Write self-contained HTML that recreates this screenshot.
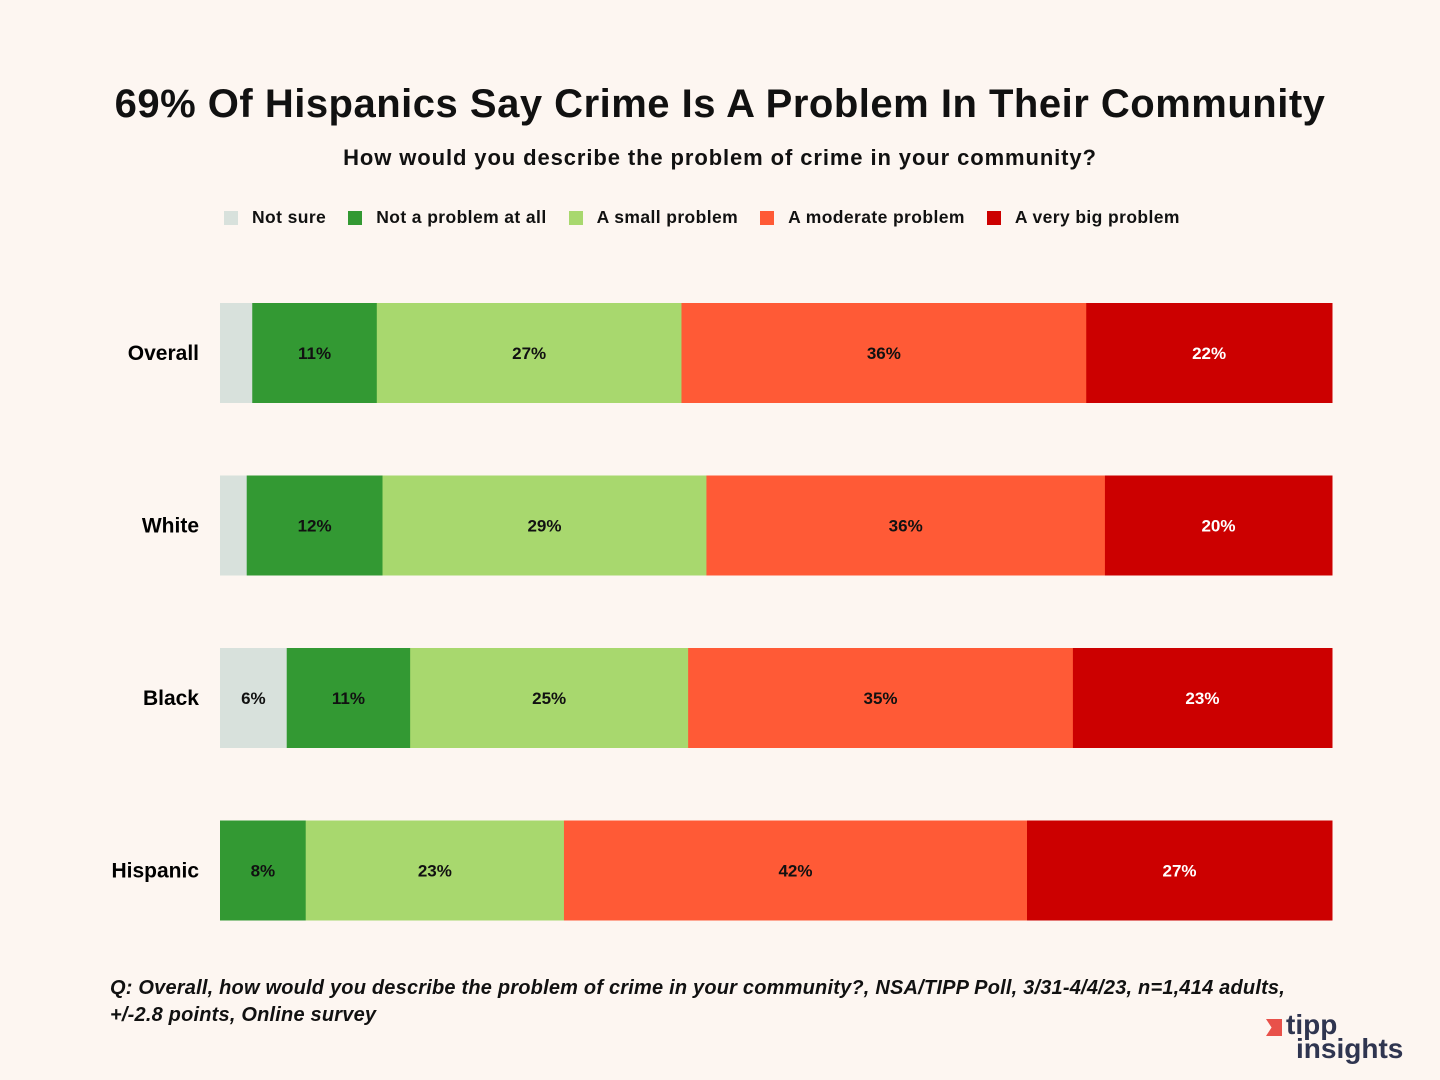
<!DOCTYPE html>
<html><head><meta charset="utf-8"><style>
body{margin:0;background:#fdf6f1;}
#c{position:relative;width:1440px;height:1080px;background:#fdf6f1;font-family:"Liberation Sans",sans-serif;color:#111;overflow:hidden}
.t{position:absolute;left:0;width:1440px;text-align:center}
</style></head><body>
<div id="c">
<div class="t" style="top:82px;font-size:40px;font-weight:bold;letter-spacing:0.5px">69% Of Hispanics Say Crime Is A Problem In Their Community</div>
<div class="t" style="top:145px;font-size:22px;font-weight:bold;letter-spacing:0.9px">How would you describe the problem of crime in your community?</div>
<div id="legend" style="position:absolute;top:207px;left:224px;font-size:17.5px;font-weight:bold;display:flex;gap:0;letter-spacing:0.4px"></div>
<svg id="svg" width="1440" height="1080" style="position:absolute;left:0;top:0"></svg>
<div style="position:absolute;left:110px;top:975px;font-size:20px;font-style:italic;font-weight:bold;line-height:27px;letter-spacing:0.2px">Q: Overall, how would you describe the problem of crime in your community?, NSA/TIPP Poll, 3/31-4/4/23, n=1,414 adults,<br>+/-2.8 points, Online survey</div>
<div style="position:absolute;left:1256px;top:1014px;width:160px;height:52px">
<div style="position:absolute;left:10px;top:5px;width:16px;height:17px;background:#e8514a;clip-path:polygon(0 0,100% 0,100% 100%,0 100%,35% 50%)"></div>
<div style="position:absolute;left:30px;top:-3px;font-size:28px;font-weight:bold;color:#2f3550;line-height:28px">tipp</div>
<div style="position:absolute;left:40px;top:21px;font-size:28px;font-weight:bold;color:#2f3550;line-height:28px">insights</div>
</div>
</div>
<script>
const categories=["Overall","White","Black","Hispanic"];
const seriesNames=["Not sure","Not a problem at all","A small problem","A moderate problem","A very big problem"];
const notSure=[2.9,2.4,6.0,0];
const notProblem=[11.2,12.2,11.1,7.7];
const small=[27.4,29.1,25.0,23.2];
const moderate=[36.4,35.8,34.6,41.6];
const veryBig=[22.1,20.4,23.3,27.4];
const colors=["#d8e1dc","#339933","#a8d86e","#ff5a36","#cc0000"];
const textColors=["#111","#111","#111","#111","#fff"];
const series=[notSure,notProblem,small,moderate,veryBig];
const NS="http://www.w3.org/2000/svg";
const svg=document.getElementById('svg');
const x0=220,x1=1332,top0=303,step=172.5,bh=100;
function yPos(i){return top0+i*step;}
const lg=document.getElementById('legend');
seriesNames.forEach((n,k)=>{
 const d=document.createElement('div');
 
 
 d.style.cssText='display:flex;align-items:center;margin-right:22px';
 d.innerHTML='<span style="display:inline-block;width:14px;height:14px;background:'+colors[k]+';margin-right:14px"></span>'+n;
 lg.appendChild(d);
});
categories.forEach((cat,i)=>{
 const tot=series.reduce((s,a)=>s+a[i],0);
 const xs=v=>v/tot*(x1-x0);
 let x=x0;const y=yPos(i);
 const lab=document.createElementNS(NS,'text');
 
 
 lab.setAttribute('x',199);lab.setAttribute('y',y+bh/2+7);lab.setAttribute('text-anchor','end');
 lab.setAttribute('font-size','21');lab.setAttribute('font-weight','bold');lab.setAttribute('font-family','Liberation Sans');
 lab.textContent=cat;svg.appendChild(lab);
 series.forEach((arr,k)=>{
  const w=xs(arr[i]);if(w<=0)return;
  const r=document.createElementNS(NS,'rect');
  
  
  r.setAttribute('x',x);r.setAttribute('y',y);r.setAttribute('width',w+0.5);r.setAttribute('height',bh);r.setAttribute('fill',colors[k]);
  svg.appendChild(r);
  if(arr[i]>=4){
   const t=document.createElementNS(NS,'text');
   
   
   t.setAttribute('x',x+w/2);t.setAttribute('y',y+bh/2+6);t.setAttribute('text-anchor','middle');
   t.setAttribute('font-size','17');t.setAttribute('font-weight','bold');t.setAttribute('font-family','Liberation Sans');t.setAttribute('fill',textColors[k]);
   t.textContent=Math.round(arr[i])+'%';svg.appendChild(t);
  }
  x+=w;
 });
});
</script>
</body></html>
